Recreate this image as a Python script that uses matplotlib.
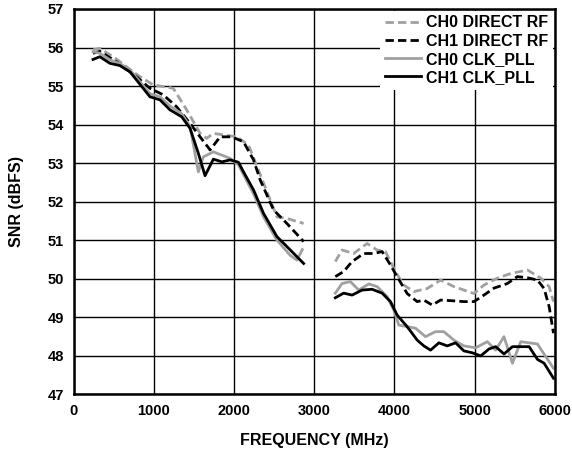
import numpy as np
import matplotlib.pyplot as plt

plt.rcParams['font.family'] = ['Liberation Sans', 'DejaVu Sans']
plt.rcParams['font.weight'] = 'bold'

# segment 1 (low band) and segment 2 (high band), MHz / dBFS
f0_rf_lo = [240, 325, 533, 783, 991, 1241, 1408, 1575, 1658, 1741, 1866, 2033, 2179, 2325, 2533, 2658, 2867]
ch0_rf_lo = [55.94, 55.98, 55.7, 55.3, 55.03, 54.94, 54.38, 53.77, 53.64, 53.77, 53.73, 53.68, 53.47, 52.7, 51.6, 51.56, 51.43]
f1_rf_lo = [240, 325, 533, 783, 950, 1116, 1283, 1450, 1575, 1700, 1825, 1971, 2117, 2242, 2325, 2492, 2658, 2867]
ch1_rf_lo = [55.85, 55.9, 55.63, 55.24, 54.94, 54.77, 54.46, 54.03, 53.68, 53.34, 53.68, 53.68, 53.55, 53.08, 52.56, 51.78, 51.43, 50.96]
f0_pll_lo = [240, 325, 450, 575, 700, 950, 1075, 1200, 1346, 1450, 1554, 1616, 1741, 1950, 2054, 2242, 2367, 2533, 2700, 2783, 2850]
ch0_pll_lo = [55.89, 55.85, 55.68, 55.58, 55.42, 54.8, 54.72, 54.48, 54.28, 53.95, 52.77, 53.16, 53.29, 53.12, 52.95, 52.2, 51.6, 51.0, 50.6, 50.48, 50.75]
f1_pll_lo = [240, 325, 450, 575, 700, 950, 1075, 1200, 1346, 1450, 1554, 1637, 1741, 1846, 1950, 2054, 2117, 2242, 2367, 2533, 2658, 2867]
ch1_pll_lo = [55.69, 55.76, 55.59, 55.53, 55.37, 54.72, 54.64, 54.38, 54.2, 53.9, 53.25, 52.67, 53.1, 53.03, 53.08, 53.02, 52.77, 52.3, 51.69, 51.09, 50.83, 50.39]

f0_rf_hi = [3262, 3346, 3491, 3658, 3783, 3887, 4012, 4116, 4241, 4408, 4575, 4741, 4866, 4991, 5116, 5283, 5450, 5658, 5825, 5929, 5983]
ch0_rf_hi = [50.44, 50.74, 50.65, 50.91, 50.74, 50.7, 50.18, 49.83, 49.66, 49.74, 49.96, 49.79, 49.7, 49.61, 49.83, 50.01, 50.13, 50.22, 50.01, 49.79, 49.4]
f1_rf_hi = [3262, 3366, 3471, 3616, 3741, 3846, 3950, 4033, 4158, 4283, 4366, 4471, 4575, 4741, 4866, 4991, 5116, 5241, 5408, 5533, 5658, 5783, 5866, 5929, 5983]
ch1_rf_hi = [50.05, 50.18, 50.44, 50.65, 50.65, 50.7, 50.35, 50.05, 49.61, 49.4, 49.44, 49.31, 49.44, 49.42, 49.4, 49.4, 49.57, 49.75, 49.87, 50.05, 50.02, 49.96, 49.74, 49.27, 48.58]
f0_pll_hi = [3262, 3346, 3450, 3554, 3679, 3783, 3908, 3991, 4054, 4158, 4262, 4387, 4512, 4616, 4741, 4866, 5012, 5158, 5262, 5366, 5471, 5575, 5783, 5887, 5983]
ch0_pll_hi = [49.62, 49.87, 49.92, 49.7, 49.86, 49.79, 49.53, 49.18, 48.79, 48.75, 48.71, 48.49, 48.62, 48.62, 48.4, 48.25, 48.2, 48.36, 48.14, 48.49, 47.8, 48.36, 48.3, 47.97, 47.67]
f1_pll_hi = [3262, 3366, 3471, 3596, 3721, 3846, 3950, 4033, 4158, 4283, 4366, 4450, 4554, 4658, 4762, 4866, 4971, 5075, 5179, 5262, 5366, 5471, 5679, 5783, 5866, 5983]
ch1_pll_hi = [49.5, 49.62, 49.57, 49.7, 49.72, 49.62, 49.4, 49.05, 48.75, 48.4, 48.25, 48.14, 48.33, 48.25, 48.33, 48.12, 48.07, 47.99, 48.17, 48.23, 48.04, 48.23, 48.23, 47.9, 47.8, 47.41]

gray = '#a0a0a0'
lw = 2.0

fig = plt.figure(figsize=(5.72, 4.5), dpi=100)
ax = fig.add_axes([0.129, 0.1244, 0.841, 0.8556])

ax.plot(f0_rf_lo, ch0_rf_lo, c=gray, lw=lw, ls=(0, (3, 1.5)), label='CH0 DIRECT RF')
ax.plot(f0_rf_hi, ch0_rf_hi, c=gray, lw=lw, ls=(0, (3, 1.5)))
ax.plot(f1_rf_lo, ch1_rf_lo, c='black', lw=lw, ls=(0, (3, 1.5)), label='CH1 DIRECT RF')
ax.plot(f1_rf_hi, ch1_rf_hi, c='black', lw=lw, ls=(0, (3, 1.5)))
ax.plot(f0_pll_lo, ch0_pll_lo, c=gray, lw=lw, label='CH0 CLK_PLL')
ax.plot(f0_pll_hi, ch0_pll_hi, c=gray, lw=lw)
ax.plot(f1_pll_lo, ch1_pll_lo, c='black', lw=lw, label='CH1 CLK_PLL')
ax.plot(f1_pll_hi, ch1_pll_hi, c='black', lw=lw)

ax.set_xlim(0, 6000)
ax.set_ylim(47, 57)
ax.set_xticks(np.arange(0, 6001, 1000))
ax.set_yticks(np.arange(47, 58, 1))
ax.grid(True, color='black', lw=1.0)
ax.set_axisbelow(True)
ax.tick_params(length=0, labelsize=10.5, pad=7)
for lab in ax.get_xticklabels() + ax.get_yticklabels():
    lab.set_fontweight('bold')
for spine in ax.spines.values():
    spine.set_linewidth(1.8)

ax.set_xlabel('FREQUENCY (MHz)', fontsize=11.5, fontweight='bold', labelpad=11)
ax.set_ylabel('SNR (dBFS)', fontsize=11.5, fontweight='bold', labelpad=17)

leg = ax.legend(loc='upper right', frameon=True, fancybox=False,
                handlelength=2.25, handletextpad=0.35, labelspacing=0.2,
                borderpad=0.3, borderaxespad=0.1, prop={'weight': 'bold', 'size': 11.5})
leg.get_frame().set_edgecolor('none')
leg.get_frame().set_facecolor('white')
leg.get_frame().set_alpha(1)

fig.savefig('out.png', dpi=100)
